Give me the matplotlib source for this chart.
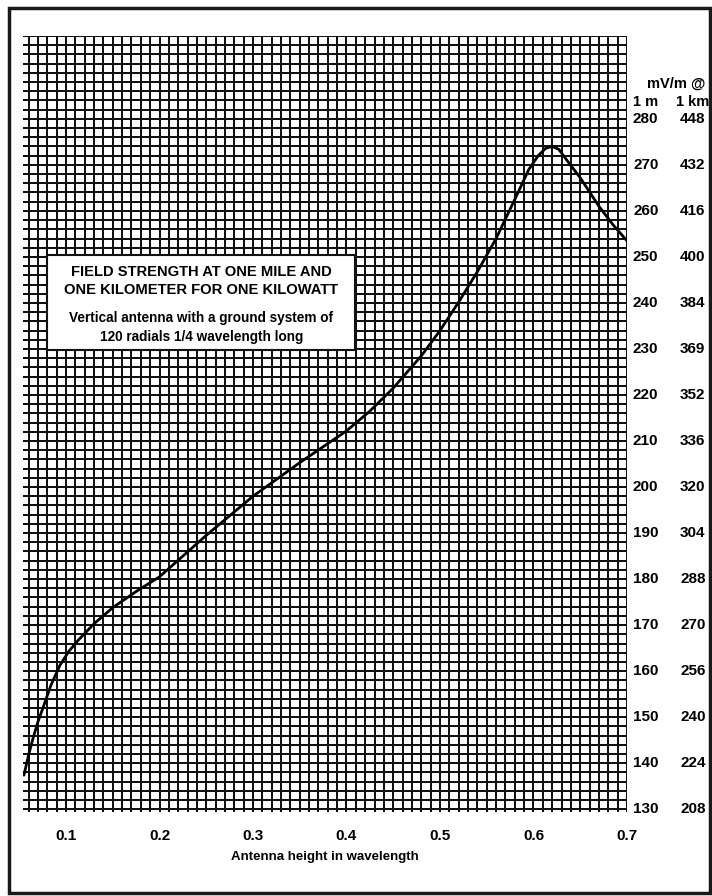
import numpy as np
import matplotlib
matplotlib.use("Agg")
import matplotlib.pyplot as plt
from matplotlib.patches import Rectangle

plt.rcParams['font.family'] = ['Liberation Sans', 'DejaVu Sans']

# antenna height (wavelengths) vs field strength (mV/m at 1 mile)
height = [0.055, 0.06, 0.065, 0.07, 0.0755, 0.084, 0.0936, 0.103, 0.113, 0.13,
          0.15, 0.175, 0.2, 0.225, 0.25, 0.3, 0.35, 0.4, 0.425, 0.45,
          0.48, 0.5, 0.52, 0.54, 0.56, 0.58, 0.595, 0.605, 0.613, 0.62,
          0.627, 0.635, 0.65, 0.67, 0.685, 0.7]
field = [137.4, 141.8, 145.6, 149.0, 152.1, 157.0, 161.3, 164.3, 166.7, 170.3,
         173.8, 177.3, 180.5, 185.0, 189.5, 198.0, 205.3, 212.2, 216.5, 221.5,
         228.5, 234.0, 240.2, 246.8, 254.0, 262.5, 269.0, 272.0, 273.6, 274.0,
         273.4, 271.2, 267.2, 261.0, 257.0, 253.5]

x_ticks = [0.1, 0.2, 0.3, 0.4, 0.5, 0.6, 0.7]
mile_vals = [280, 270, 260, 250, 240, 230, 220, 210, 200, 190, 180, 170, 160, 150, 140, 130]
km_vals = ['448', '432', '416', '400', '384', '369', '352', '336', '320', '304',
           '288', '270', '256', '240', '224', '208']

fig = plt.figure(figsize=(7.12, 8.96), dpi=100)
fig.patch.set_facecolor('white')

# outer frame of the scanned page
fig.add_artist(Rectangle((0.0126, 0.0035), 0.985, 0.988, transform=fig.transFigure,
                         fill=False, edgecolor='#1a1a1a', linewidth=2.5))

ax = fig.add_axes([0.0323, 0.0938, 0.8483, 0.866])
ax.set_xlim(0.054, 0.7)
ax.set_ylim(129.4, 298)

# graph paper grid
for gx in np.arange(0.06, 0.7001, 0.01):
    ax.axvline(gx, color='#111111', linewidth=1.45, zorder=1)
for gy in np.arange(130, 298.1, 2):
    ax.axhline(gy, color='#111111', linewidth=1.45, zorder=1)

ax.plot(height, field, color='black', linewidth=2.0, zorder=3,
        solid_capstyle='round', solid_joinstyle='round')

for s in ax.spines.values():
    s.set_visible(False)
ax.set_yticks([])
ax.set_xticks(x_ticks)
ax.set_xticklabels([f'{v:.1f}' for v in x_ticks], fontsize=11, fontweight='bold')
ax.tick_params(axis='x', length=0, pad=12)
ax.set_xlabel('Antenna height in wavelength', fontsize=9.5, fontweight='bold', labelpad=6)

# right-hand scale: 1 mile and 1 km columns
ytr = ax.get_yaxis_transform()
for m, k in zip(mile_vals, km_vals):
    ax.text(1.031, m, str(m), transform=ytr, ha='center', va='center',
            fontsize=11, fontweight='bold', clip_on=False)
    ax.text(1.109, m, k, transform=ytr, ha='center', va='center',
            fontsize=11, fontweight='bold', clip_on=False)
ax.text(1.081, 0.939, 'mV/m @', transform=ax.transAxes, ha='center', va='center',
        fontsize=10.5, fontweight='bold')
ax.text(1.031, 0.915, '1 m', transform=ax.transAxes, ha='center', va='center',
        fontsize=10.5, fontweight='bold')
ax.text(1.109, 0.915, '1 km', transform=ax.transAxes, ha='center', va='center',
        fontsize=10.5, fontweight='bold')

# caption box
ax.add_patch(Rectangle((0.0397, 0.5954), 0.51, 0.1224, transform=ax.transAxes,
                       facecolor='white', edgecolor='#111111', linewidth=1.5, zorder=4))
ax.text(0.295, 0.696, 'FIELD STRENGTH AT ONE MILE AND', transform=ax.transAxes,
        ha='center', va='center', fontsize=10.6, fontweight='bold', zorder=5)
ax.text(0.295, 0.673, 'ONE KILOMETER FOR ONE KILOWATT', transform=ax.transAxes,
        ha='center', va='center', fontsize=10.6, fontweight='bold', zorder=5)
ax.text(0.295, 0.637, 'Vertical antenna with a ground system of', transform=ax.transAxes,
        ha='center', va='center', fontsize=9.8, fontweight='bold', zorder=5)
ax.text(0.295, 0.612, '120 radials 1/4 wavelength long', transform=ax.transAxes,
        ha='center', va='center', fontsize=9.8, fontweight='bold', zorder=5)

fig.savefig('out.png', dpi=100, facecolor='white')
